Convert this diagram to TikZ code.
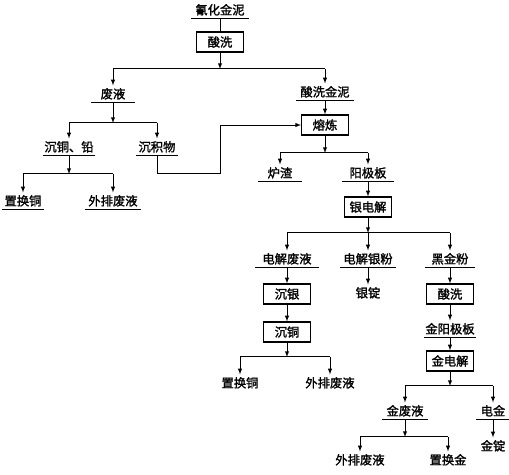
\documentclass[tikz,border=0pt]{standalone}
\usepackage{fontspec}
\newfontfamily\cjk[FakeBold=1.5]{Noto Sans CJK SC}
\usepackage{tikz}

\tikzset{
  lbl/.style={inner xsep=0pt, inner ysep=1pt, text height=8pt, text depth=2pt,
    font=\cjk\fontsize{10.5}{12}\selectfont},
  ul/.style={lbl, minimum width=#1,
    append after command={(\tikzlastnode.south west) edge[line width=0.8pt] (\tikzlastnode.south east)}},
  stage/.style={draw, line width=1pt, minimum width=1.4cm, minimum height=0.6cm,
    inner xsep=4pt, font=\cjk\fontsize{10.5}{12}\selectfont},
  arr/.style={line width=0.7pt, -latex, shorten >=2pt},
  bar/.style={line width=0.8pt, double, double distance=0.7pt},
}

\begin{document}
\begin{tikzpicture}[x=0.03cm, y=-0.03cm]
    \useasboundingbox (0, 0) rectangle (509, 474);

    % top: gold slime and acid wash
    \node[ul=1.71cm] (jn) at (220, 11) {氰化金泥};
    \node[stage] (sx1) at (220, 42) {酸洗};
    \coordinate (b1l) at (113, 69);
    \coordinate (b1r) at (325, 69);

    \node[ul=1.29cm] (fy) at (113, 95) {废液};
    \node[ul=1.74cm] (sxjn) at (325, 93) {酸洗金泥};

    % left branch
    \coordinate (b2l) at (69, 123);
    \coordinate (b2r) at (157, 123);
    \node[ul=1.56cm] (ctq) at (69, 148) {沉铜、铅};
    \node[ul=1.26cm] (cjw) at (157, 148) {沉积物};
    \coordinate (b3l) at (23, 174);
    \coordinate (b3r) at (113, 174);
    \node[ul=1.26cm] (zhc) at (23, 202) {置换铜};
    \node[ul=1.68cm] (wp1) at (113, 202) {外排废液};
    \coordinate (c1) at (220, 173);

    % smelting
    \node[stage] (rl) at (325, 125) {熔炼};
    \coordinate (b4l) at (280, 153);
    \coordinate (b4r) at (368, 153);
    \node[ul=1.32cm] (lz) at (280, 174) {炉渣};
    \node[ul=1.53cm] (yjb) at (368, 174) {阳极板};
    \node[stage] (ydj) at (368, 207) {银电解};
    \coordinate (b5l) at (287, 233);
    \coordinate (b5m) at (368, 233);
    \coordinate (b5r) at (450, 233);

    \node[ul=1.89cm] (djfy) at (287, 260) {电解废液};
    \node[ul=1.65cm] (djyf) at (368, 260) {电解银粉};
    \node[ul=1.5cm] (hjf) at (450, 260) {黑金粉};

    % silver electrolyte
    \node[stage] (cy) at (287, 294) {沉银};
    \node[stage] (ct) at (287, 332) {沉铜};
    \coordinate (b6l) at (240, 357);
    \coordinate (b6r) at (330, 357);
    \node[lbl] (zhc2) at (240, 384) {置换铜};
    \node[lbl] (wp2) at (330, 384) {外排废液};
    \node[lbl] (yd) at (368, 294) {银锭};

    % gold
    \node[stage] (sx2) at (450, 294) {酸洗};
    \node[ul=1.56cm] (jyjb) at (450, 330) {金阳极板};
    \node[stage] (jdj) at (450, 361) {金电解};
    \coordinate (b7l) at (405, 386);
    \coordinate (b7r) at (493, 386);
    \node[ul=1.35cm] (jfy) at (405, 412) {金废液};
    \node[ul=1.02cm] (dj) at (493, 412) {电金};
    \node[lbl] (jd) at (493, 447) {金锭};
    \coordinate (b8l) at (360, 437);
    \coordinate (b8r) at (448, 437);
    \node[lbl] (wp3) at (360, 461) {外排废液};
    \node[lbl] (zhj) at (448, 461) {置换金};

    % bars
    \foreach \b in {1, ..., 8} {
      \draw[bar] (b\b l) -- (b\b r);
    }

    % connectors
    \draw[line width=0.7pt] (jn) -- (sx1);
    \draw[arr, shorten >=0pt] (sx1) -- (sx1 |- b1l);
    \draw[arr] (b1l) -- (fy);
    \draw[arr] (b1r) -- (sxjn);
    \draw[arr, shorten >=0pt] (fy) -- (b2l -| fy);
    \draw[arr] (b2l) -- (ctq);
    \draw[arr] (b2r) -- (cjw);
    \draw[arr, shorten >=0pt] (ctq) -- (b3l -| ctq);
    \draw[arr] (b3l) -- (zhc);
    \draw[arr] (b3r) -- (wp1);
    \draw[arr, shorten >=0pt] (cjw) |- (c1) |- (rl);

    \draw[arr, shorten >=0pt] (sxjn) -- (rl);
    \draw[arr, shorten >=0pt] (rl) -- (b4l -| rl);
    \draw[arr] (b4l) -- (lz);
    \draw[arr] (b4r) -- (yjb);
    \draw[arr, shorten >=0pt] (yjb) -- (ydj);
    \draw[arr, shorten >=0pt] (ydj) -- (b5m);
    \draw[arr] (b5l) -- (djfy);
    \draw[arr] (b5m) -- (djyf);
    \draw[arr] (b5r) -- (hjf);

    \draw[arr, shorten >=0pt] (djfy) -- (cy);
    \draw[arr, shorten >=0pt] (cy) -- (ct);
    \draw[arr, shorten >=0pt] (ct) -- (b6l -| ct);
    \draw[arr] (b6l) -- (zhc2);
    \draw[arr] (b6r) -- (wp2);
    \draw[arr] (djyf) -- (yd);

    \draw[arr, shorten >=0pt] (hjf) -- (sx2);
    \draw[arr] (sx2) -- (jyjb);
    \draw[arr, shorten >=0pt] (jyjb) -- (jdj);
    \draw[arr, shorten >=0pt] (jdj) -- (b7l -| jdj);
    \draw[arr] (b7l) -- (jfy);
    \draw[arr] (b7r) -- (dj);
    \draw[arr] (dj) -- (jd);
    \draw[arr, shorten >=0pt] (jfy) -- (b8l -| jfy);
    \draw[arr] (b8l) -- (wp3);
    \draw[arr] (b8r) -- (zhj);
  \end{tikzpicture}
\end{document}
